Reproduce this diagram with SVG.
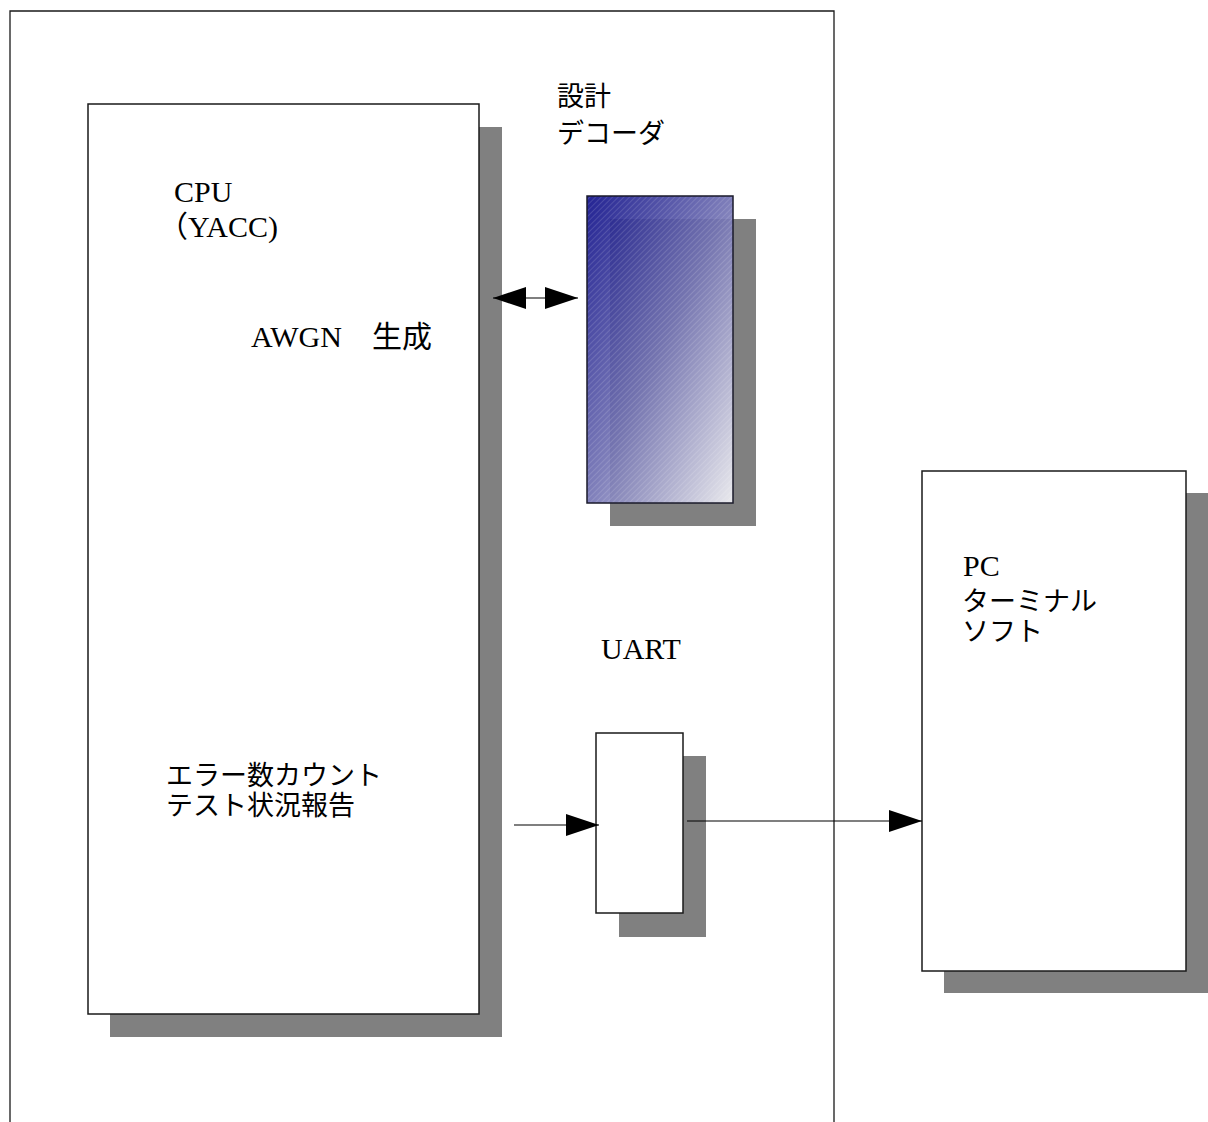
<svg xmlns="http://www.w3.org/2000/svg" width="1208" height="1122" viewBox="0 0 1208 1122">
  <style>
    .frame { fill: none; stroke: #1a1a1a; stroke-width: 1.3; }
    .box { fill: #ffffff; stroke: #1a1a1a; stroke-width: 1.5; }
    .shadow { fill: #808080; }
    .lbl { font-family: "Liberation Serif", "Noto Sans CJK JP", serif; font-size: 30px; fill: #000000; }
    .jp { font-family: "Liberation Serif", "Noto Sans CJK JP", serif; font-size: 27px; fill: #000000; }
    .conn { stroke: #000000; stroke-width: 1.2; fill: none; }
  </style>
  <defs>
    <marker id="arrow" viewBox="0 0 33 22" refX="33" refY="11" markerWidth="33" markerHeight="22" markerUnits="userSpaceOnUse" orient="auto-start-reverse">
      <path d="M0,0 L33,11 L0,22 Z" fill="#000000"/>
    </marker>
    <linearGradient id="decGrad" x1="0" y1="0" x2="1" y2="1">
      <stop offset="0" stop-color="#10108a"/>
      <stop offset="0.5" stop-color="#7474b4"/>
      <stop offset="1" stop-color="#f2f2f6"/>
    </linearGradient>
    <pattern id="hatch" width="4" height="4" patternUnits="userSpaceOnUse" patternTransform="rotate(45)">
      <line x1="0" y1="0" x2="0" y2="4" stroke="#ffffff" stroke-width="0.8" stroke-opacity="0.35"/>
    </pattern>
  </defs>

  <g id="board">
    <path class="frame" d="M10,1122 L10,11 L834,11 L834,1122"/>
  </g>

  <g id="cpu">
    <rect class="shadow" x="110" y="127" width="392" height="910"/>
    <rect class="box" x="88" y="104" width="391" height="910"/>
    <text class="lbl" x="174" y="202">CPU</text>
    <text class="lbl" x="158" y="237">（YACC)</text>
    <text class="lbl" x="251" y="347">AWGN　生成</text>
    <text class="jp" x="166" y="785">エラー数カウント</text>
    <text class="jp" x="166" y="815">テスト状況報告</text>
  </g>

  <g id="decoder">
    <text class="jp" x="557" y="106">設計</text>
    <text class="jp" x="557" y="143">デコーダ</text>
    <rect class="shadow" x="610" y="219" width="146" height="307"/>
    <rect x="587" y="196" width="146" height="307" fill="url(#decGrad)" fill-opacity="0.92"/>
    <rect x="587" y="196" width="146" height="307" fill="url(#hatch)" stroke="#1a1a2a" stroke-width="1.5"/>
  </g>

  <g id="uart">
    <text class="lbl" x="601" y="659">UART</text>
    <rect class="shadow" x="619" y="756" width="87" height="181"/>
    <rect class="box" x="596" y="733" width="87" height="180"/>
  </g>

  <g id="pc">
    <rect class="shadow" x="944" y="493" width="264" height="500"/>
    <rect class="box" x="922" y="471" width="264" height="500"/>
    <text class="lbl" x="963" y="576">PC</text>
    <text class="jp" x="962" y="611">ターミナル</text>
    <text class="jp" x="962" y="641">ソフト</text>
  </g>

  <g id="connectors">
    <line class="conn" x1="493" y1="298" x2="578" y2="298" marker-start="url(#arrow)" marker-end="url(#arrow)"/>
    <line class="conn" x1="514" y1="825" x2="599" y2="825" marker-end="url(#arrow)"/>
    <line class="conn" x1="687" y1="821" x2="922" y2="821" marker-end="url(#arrow)"/>
  </g>
</svg>
